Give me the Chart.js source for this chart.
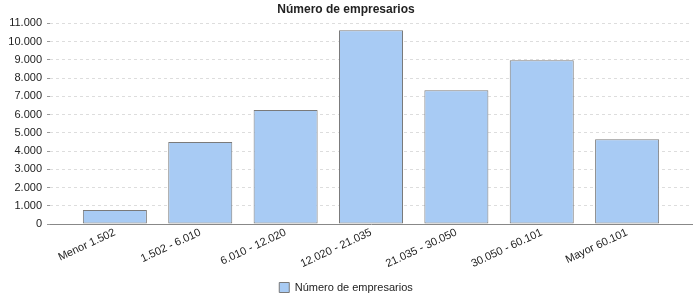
<!DOCTYPE html>
<html>
<head>
<meta charset="utf-8">
<script src="https://cdn.jsdelivr.net/npm/chart.js@4.4.1/dist/chart.umd.min.js"></script>
<style>
  html, body { margin: 0; padding: 0; background: #fff; }
  #wrap { width: 700px; height: 300px; }
</style>
</head>
<body>
<div id="wrap"><canvas id="chart" width="700" height="300"></canvas></div>
<script>
const categories = [
  "Menor 1.502",
  "1.502 - 6.010",
  "6.010 - 12.020",
  "12.020 - 21.035",
  "21.035 - 30.050",
  "30.050 - 60.101",
  "Mayor 60.101",
];
const empresarios = [770, 4490, 6250, 10620, 7330, 8980, 4650];
const seriesLabel = "Número de empresarios";
const chartTitle = "Número de empresarios";

const fmt = (v) => String(v).replace(/\B(?=(\d{3})+(?!\d))/g, ".");

const ctx = document.getElementById("chart").getContext("2d");
new Chart(ctx, {
  type: "bar",
  data: {
    datasets: [
      {
        label: seriesLabel,
        data: empresarios.map((v, i) => ({ x: i, y: v })),
        backgroundColor: "#a8cbf4",
        borderColor: "#7a7a7a",
        borderWidth: 1,
        borderSkipped: false,
        categoryPercentage: 1,
        barPercentage: 0.75,
      },
    ],
  },
  options: {
    responsive: false,
    animation: false,
    layout: { padding: { left: 0, right: 8, top: 0, bottom: -3 } },
    plugins: {
      title: {
        display: true,
        text: chartTitle,
        color: "#222",
        font: { family: "Liberation Sans", size: 12, weight: "bold" },
        padding: { top: 2, bottom: 7 },
      },
      legend: {
        position: "bottom",
        labels: {
          boxWidth: 10,
          boxHeight: 10,
          color: "#222",
          padding: 0,
          font: { family: "Liberation Sans", size: 11 },
        },
      },
      tooltip: { enabled: false },
    },
    scales: {
      x: {
        type: "linear",
        offset: false,
        min: -0.76,
        max: 6.76,
        afterBuildTicks: (scale) => {
          scale.ticks = categories.map((_, i) => ({ value: i }));
        },
        afterFit: (scale) => {
          scale.height = 58;
        },
        grid: { display: false, offset: false, drawTicks: false },
        border: { display: true, color: "#888", width: 1 },
        ticks: {
          autoSkip: false,
          minRotation: 25,
          maxRotation: 25,
          padding: 2,
          color: "#222",
          font: { family: "Liberation Sans", size: 11 },
          callback: (v) => categories[v] ?? "",
        },
      },
      y: {
        min: 0,
        max: 11000,
        afterFit: (scale) => {
          scale.width = 50;
        },
        border: { display: false, dash: [3, 3] },
        grid: {
          color: "#dddddd",
          tickColor: "#999",
          tickLength: 3,
          tickBorderDash: [3, 3],
        },
        ticks: {
          stepSize: 1000,
          padding: 5,
          color: "#222",
          font: { family: "Liberation Sans", size: 11 },
          callback: (v) => fmt(v),
        },
      },
    },
  },
});
</script>
</body>
</html>
